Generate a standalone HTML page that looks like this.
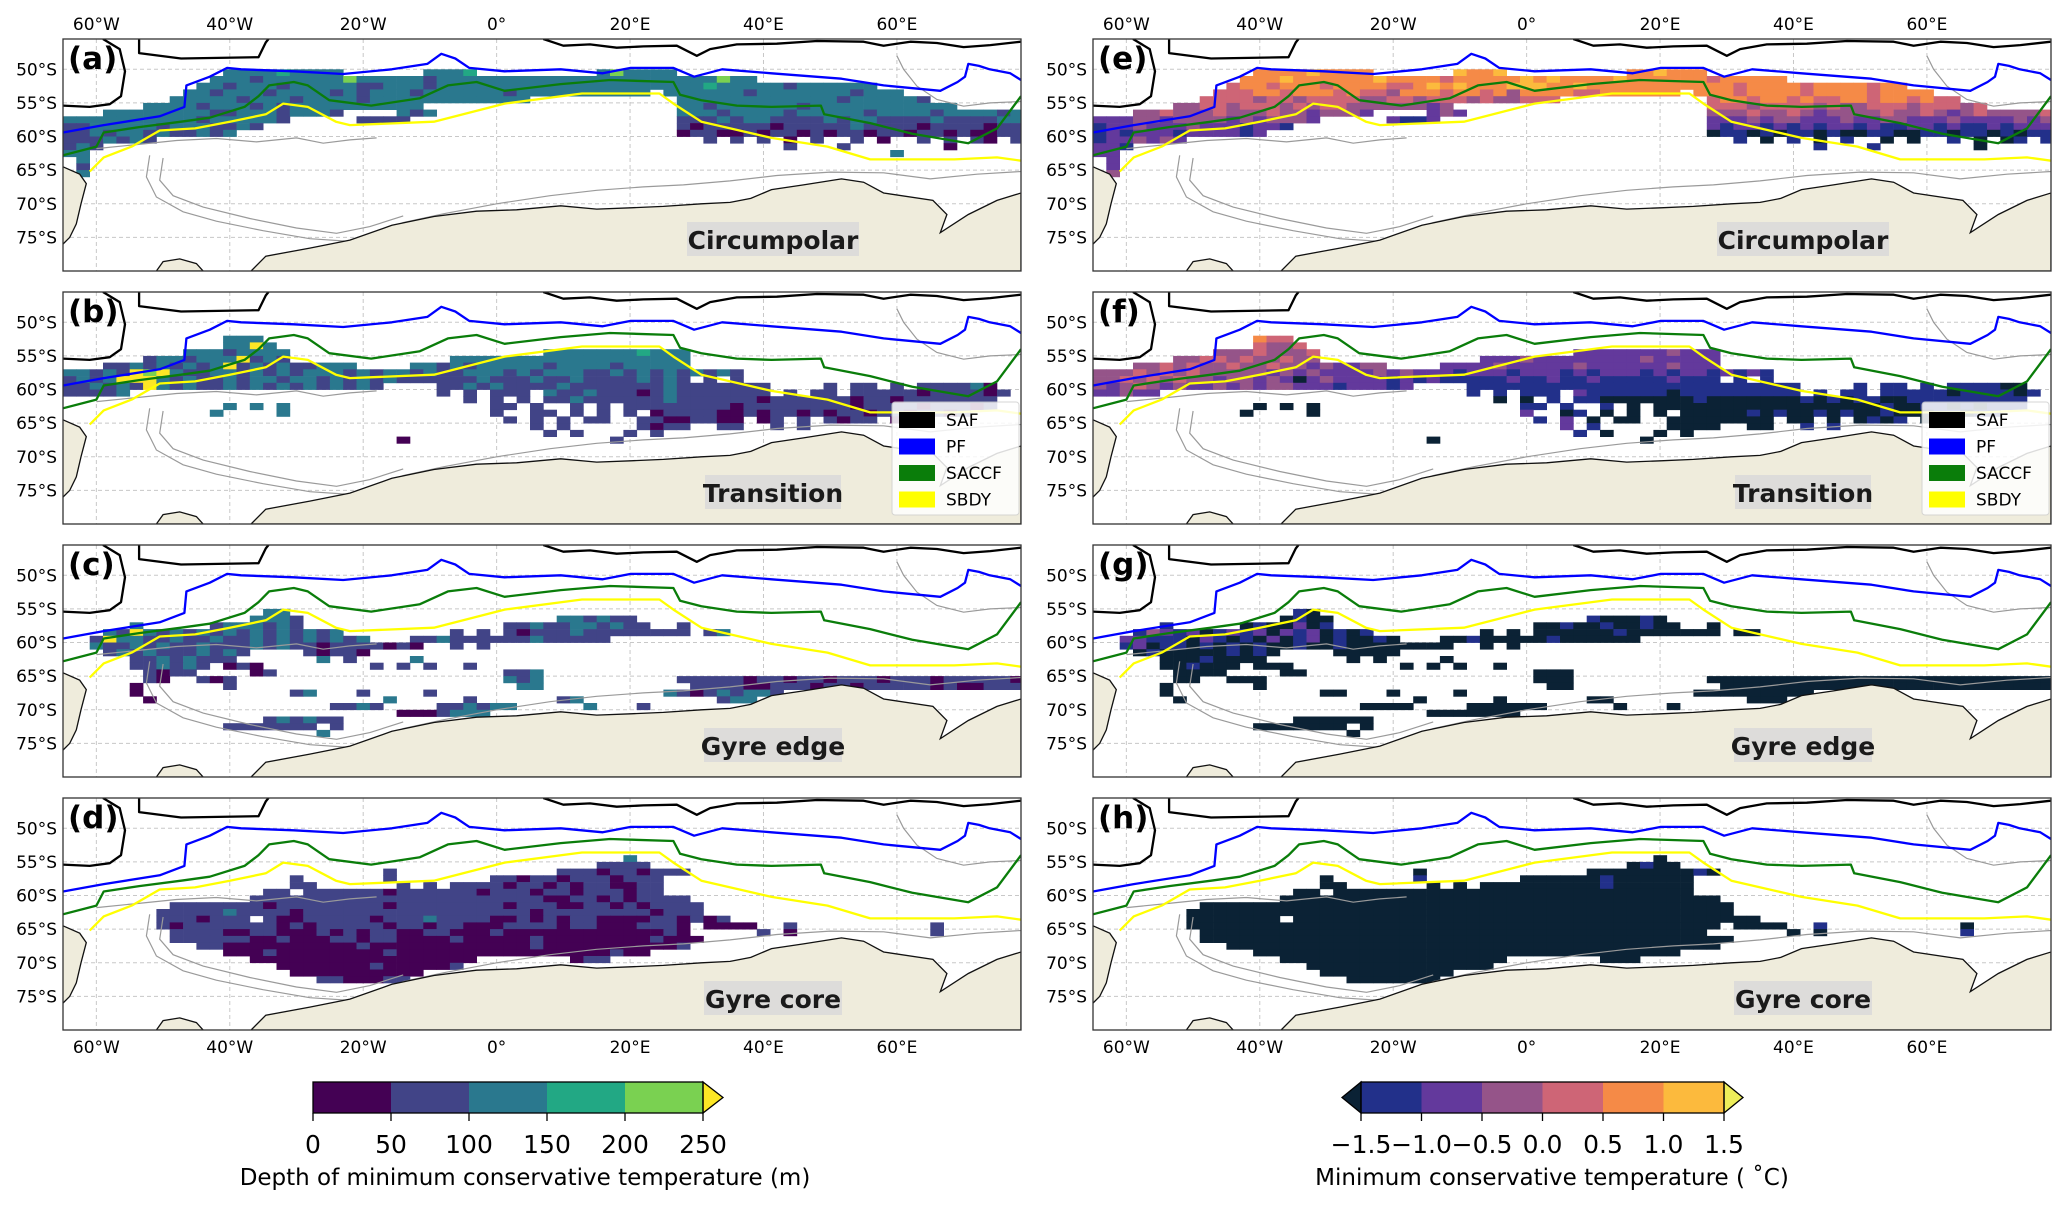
<!DOCTYPE html>
<html><head><meta charset="utf-8"><title>Minimum conservative temperature maps</title>
<style>
html,body{margin:0;padding:0;background:#fff;}
svg{display:block;font-family:"DejaVu Sans","Liberation Sans",sans-serif;}
</style></head>
<body>
<svg id="fig" width="2067" height="1207" viewBox="0 0 2067 1207" xmlns="http://www.w3.org/2000/svg"></svg>
<script>
// ---------- data ----------
const lonTicks = [-60,-40,-20,0,20,40,60];
const lonTickLabels = ["60°W","40°W","20°W","0°","20°E","40°E","60°E"];
const latTicks = [-50,-55,-60,-65,-70,-75];
const latTickLabels = ["50°S","55°S","60°S","65°S","70°S","75°S"];
const depthClassColors = ["#440154","#414487","#2a788e","#22a884","#7ad151","#fde725"];
const depthTicks = [0,50,100,150,200,250];
const tempClassColors = {a:"#0b2235",b:"#22308a",c:"#63399c",d:"#955489",e:"#ce6576",f:"#f58a47",g:"#fcba3d",h:"#eeee5a"};
const tempTicks = [-1.5,-1.0,-0.5,0.0,0.5,1.0,1.5];
const tempBins = ["b","c","d","e","f","g"];
const cellLonStart = -65, cellLonStep = 2, cellLatStart = -48, cellLatStep = 1;

// rows: row r covers lat (-48-r) to (-49-r); column c covers lon (-65+2c) to (-63+2c)
const depthCircumpolar = ["","",
".......... ..22223222 2......222 3......... 242222",
".......... .222122222 2422222122 2222222222 2222222224 22",
".......... 2212221222 2211222122 2222222222 2222222232 2222122222 2",
".........2 2122212222 1212221222 2221222222 2222.22222 2122222221 222",
"........22 2221222122 2212222222 22222..... ......2222 2222222212 22221",
"......2222 1222121222 2222222... .......... ......2212 2222212222 2222222",
"...2222222 2112221222 1....212.. .......... ......2221 2222122222 1222212222 12",
"2222222222 1222221... ..1111.... .......... ......1112 1221111212 2111121111 22",
"1122222122 21121..... .......... .......... ......1011 1110111112 1111011110 11",
"1121221211 212....... .......... .......... ......0110 0101101011 0110110100 11",
"1112121... .......... .......... .......... ........1. 1.1.0.1..1 .0..1.1.10 .1",
"121....... .......... .......... .......... .......... ....1...1. ......0...",
"22........ .......... .......... .......... .......... .......... ..2",
".2",".1",".2"];
const depthTransition = ["","","","",
".......... ..222",
".......... ..2252",
".........2 2212222... .......... ......2222 2223222",
"......1221 2225121... .........2 2222222222 2222222",
"...1121212 1251212112 22....2212 1222221222 2122222",
"2212154521 1221212122 2121221211 2221212221 1212121212 1",
"1212555212 1121221221 2121211111 1211121121 1112121.1. 1",
"1121215212 1121212121 2121....11 2121111211 1111121111 111....1.1 1.1.11112 0",
"11112..... .......... ........1. 1.111.2112 1110121111 111.1.11.1 1111011110 1",
".......... .......... .......... 1.1.1.1121 1111121111 1101111110 1101111111",
".......... ..2.2.2... .......... ..11.1..1. 1.11111111 0111111110 1111011101",
".......... .2....2... .......... ..1..11.1. 1.1.011110 0101101011 01101101",
".......... .......... .......... ...1.1.1.1 1..1100110 0.01.1.101 1.0",
".......... .......... .......... .....1.1.. ...1011..1 1..1.1",
".......... .......... .......... ......1.1. ..1.1",
".......... .......... .....0.... .......... .1"];
const depthGyreEdge = ["","","","","","","",
".......... .....22",
".......... ....2221. .......... ........22 1211",
".....2.... .1222121.. .......... ...1121122 1211..1",
"...2152121 2121212121 2........1 .1.1011121 1111111.12",
"..15221121 1211212121 212...1121 1111121111 1",
"..21121211 2111212110 1111010..1 .1",
"...1212111 2121....10 110",
".....11212 111...... 2.1....2",
".....11212 1.010..... ...1.1.1.. 1",
"......1011 ....01.... .......... ...112",
"......10.. 101....... .......... ...212.... ......1111 1011011011 1011101111 10",
".....0.... ..1....... .......... ....22.... .......111 1001110110 1111101001 11",
".....0.... .......12. ..1....1.. .......... .....21012 1221",
"......0... .......... ....2.....1 ......12.. ........12 2",
".......... .......... 1121....11 2122.....2 ...1",
".......... .......... .....00012 22",
".......... .....12121 1",
".......... ..1111111. 1",
".......... .........2"];
const depthGyreCore = ["","","","","","",
".......... .......... .......... .......... ..2",
".......... .......... .......... .......... 1111",
".......... .......... ....1..... .......111 0110111",
".......... .......1.. ....1..... ..11011011 10111",
".......... .......11. .....1.1.1 1110110101 10011",
".......... .....11.11 1111011111 1011101101 11011",
".......... ....111111 1111111111 1111110011 0101111",
"........11 1111101111 1111011111 1110111001 10101111",
".......111 1121111011 1111111111 1111101111 11110111",
".......111 0111.10011 1110111211 1100101011 0000110101",
".......101 1111110101 1111011011 0001111011 0001110.00 00..1..... .....1",
"........11 1100110001 0101100110 0010000000 0000010... ..1.0..... .....1",
"........11 1111001000 1101100001 0000010000 00001000",
".......... 1100000000 0010000000 0000010000 0000001",
".......... ..00010000 0000100000 0000000000 0100",
".......... ....000000 0000000000 0.......01 1",
".......... ......0000 0001000001",
".......... .......000 0000000",
".......... .........1 100011"];

const tempCircumpolar = ["","",
".......... ..ffffgfff f......gff g......... ffgfff",
".......... .fffgfffff fgffffefff ffgfgffffg ffffffefff ff",
".......... effefffeff ffeefgfgff fgggffgfff ffffffffef fffeffffef f",
".........e eeffefffef eedfffeffe fdffffeeff ffff.fffef fffeffffef fff",
"........ee eedeedeeee ddeedeeede ddeee..... ......effe ffefeeffef fefee",
"......ddee deeededeed dddddcd... .......... ......eeed eeeededdee edeeede",
"...ddeddde dddeddcddd c....cdc.. .......... ......ddde ddedcdddde ddedcdeddd de",
"cccddcdddd cdcdddc... ..cbbc.... .......... ......cccd cddcccdccd dcccdccccd cd",
"bccdcccdcc cbccb..... .......... .......... ......cbcc bcbcbccbcb bccbcbbcbc cc",
"bcbcccbccc cbc....... .......... .......... ......abba babbabaabb aabbabbaba bb",
"bccdcdc... .......... .......... .......... ........b. a.b.a.b..a .a..b.a.ab .b",
"ccb....... .......... .......... .......... .......... ....b...b. ......a...",
"cc",".c",".c",".d"];
const tempTransition = ["","","","",
".......... ..fee",
".......... ..edde",
".........d ddeddde... .......... ......cccc cccdccc",
"......ddee deddedd... .........c ccdccccccc cdccccc",
"...ddededd eddeddcdcc dd....cccc dcccccdccc cccdccc",
"dddedededd dddcdcdccc cdcdcccbcc cbcccbcbcc cbcbccbcbc b",
"ddedededdc ddcdcacdcc ccbcbcbbbb bcbbcbbcbb bbbcbbb.b. b",
"dcdedcdccd cdcddcccbc ccbc....bb bbbbbbbbbb bbbbbbbbbb bbb....b.b b.b.bbbba a",
"ccdcc..... .......... ........b. b.bbb.cbbb bbbabbbbbb bbb.b.bb.b bbbbabbbba b",
".......... .......... .......... a.a.b.bbaa aaaaabaaaa aaabababba abbbbbbbbb",
".......... ..a.a.a... .......... ..bb.b..b. a.aaaaaaaa aaaaaaaaab aabbababbb",
".......... .a....a... .......... ..c..ab.a. a.a.aaaaab abaababaab aaabbabb",
".......... .......... .......... ...b.c.a.a a..aaaaaaa a.aa.a.aba b.a",
".......... .......... .......... .....c.b.. ...aaaa..a a..b.b",
".......... .......... .......... ......b.a. ..a.a",
".......... .......... .....a.... .......... .a"];
const tempGyreEdge = ["","","","","","","",
".......... .....ba",
".......... ....abaa. .......... ........ba aaba",
".....b.... .abaacab.. .......... ...aabaaba abaa..a",
"...bdcbcab cbcacbcaba b........a .a.aaaaaab aaaaaaa.aa",
"..ccbbbacb abacabcaba aba...aaba aaaabaaaaa a",
"..bcabbaba babaabaaba aaaaaaa..a .a",
"...abaaaaa baba....aa aaa",
".....aaaba aaa...... a.a....a",
".....aabaa a.aaa..... ...a.a.a.. a",
"......aaaa ....aa.... .......... ...aaa",
"......aa.. aaa....... .......... ...aaa.... ......aaaa aaaaaaaaaa aaaaaaaaaa aa",
".....a.... ..a....... .......... ....aa.... .......aaa aaaaaaaaaa aaaaaaaaaa aa",
".....a.... .......aa. ..a....a.. .......... .....aaaaa aaaa",
"......a... .......... ....a.....a ......aa.. ........aa a",
".......... .......... aaaa....aa aaaa.....a ...a",
".......... .......... .....aaaaa aa",
".......... .....aaaaa a",
".......... ..aaaaaaa. a",
".......... .........a"];
const tempGyreCore = ["","","","","","",
".......... .......... .......... .......... ..a",
".......... .......... .......... .......... abaa",
".......... .......... ....a..... .......aaa aaaaaba",
".......... .......a.. ....b..... ..aaaaaaba aaaaa",
".......... .......aa. .....a.a.a aaaaaaaaba aaaaa",
".......... .....aa.aa aaaaaaaaaa aaaaaaaaaa aaaaa",
".......... ....aaaaaa aaaaaaaaaa aaaaaaaaaa aaaaaaa",
"........aa aaaaaaaaaa aaaaaaaaaa aaaaaaaaaa aaaaaaaa",
".......aaa aaaaaaaaaa aaaaaaaaaa aaaaaaaaaa aaaaaaaa",
".......aaa aaaa.aaaaa aaaaaaaaaa aaaaaaaaaa aaaaaaaaaa",
".......aaa aaaaaaaaaa aaaaaaaaaa aaaaaaaaaa aaaaaaa.aa aa..b..... .....a",
"........aa aaaaaaaaaa aaaaaaaaaa aaaaaaaaaa aaaaaa.... ..a.a..... .....b",
"........aa aaaaaaaaaa aaaaaaaaaa aaaaaaaaaa aaaaaaaa",
".......... aaaaaaaaaa aaaaaaaaaa aaaaaaaaaa aaaaaaa",
".......... ..aaaaaaaa aaaaaaaaaa aaaaaaaaaa aaaa",
".......... ....aaaaaa aaaaaaaaaa a.......aa a",
".......... ......aaaa aaaaaaaaaa",
".......... .......aaa aaaaaaa",
".......... .........a aaaaaa"];

// fronts and coast as [lon, lat]
const safLine = [[7,-45.5],[10,-46.5],[14,-46.3],[18,-46.8],[22,-46.6],[27,-46.5],[30,-48],[32,-47],[36,-46.3],[42,-46.2],[48,-45.8],[55,-45.9],[58,-46.5],[62,-45.9],[66,-46.1],[70,-46.7],[74,-46.4],[78.6,-45.9]];
const safWest1 = [[-59,-45.5],[-56.5,-47],[-55.7,-50.3],[-56.3,-54],[-58,-55.2],[-61,-55.6],[-65,-55.4]];
const safWest2 = [[-53.6,-45.5],[-53.6,-47.6],[-47.3,-48.4],[-35.7,-48.2],[-34.6,-46],[-34.2,-45.5]];
const pfLine = [[-65,-59.4],[-58.9,-58.3],[-50.5,-57],[-46.8,-55.6],[-46.5,-52.4],[-43,-51.1],[-40.4,-49.8],[-38.3,-50],[-30.4,-50.3],[-23,-50.7],[-15.7,-50],[-10.4,-49.2],[-8.3,-47.7],[-6.2,-48.4],[-4.1,-49.8],[1.2,-50.3],[9.6,-50],[15.9,-50.6],[20.1,-49.8],[26.5,-49.8],[29.6,-51.1],[33.8,-50],[41.2,-50.6],[51.7,-51.4],[58,-52.4],[66.5,-53.2],[69.1,-51.9],[70.2,-51.1],[70.7,-49.2],[72.3,-49.5],[73.9,-50],[77,-50.6],[78.6,-51.6]];
const saccfLine = [[-65,-62.8],[-60,-61.5],[-58.9,-59.4],[-53.6,-58.6],[-47.3,-57.8],[-43,-57.2],[-37.8,-55.6],[-35.7,-54],[-34.1,-52.4],[-30.4,-51.9],[-28.3,-52.4],[-25.1,-54.6],[-18.8,-55.4],[-11.5,-54.3],[-7.3,-52.4],[-3,-51.9],[1.2,-53.2],[9.6,-52.2],[17,-51.6],[26.5,-51.9],[27.5,-53.8],[30.7,-54.6],[36,-55.4],[41.2,-55.6],[48.6,-55.4],[49.1,-56.7],[56,-58],[62.3,-59.6],[70.7,-61],[75,-58.8],[78.6,-54]];
const sbdyLine = [[-61,-65.2],[-58.9,-63.1],[-54.7,-61.5],[-50.5,-59.1],[-45.2,-58.8],[-40,-57.8],[-34.6,-56.7],[-32,-55.1],[-28.3,-55.6],[-24.1,-57.8],[-22,-58.3],[-9.4,-57.8],[1.2,-55.1],[12.8,-53.6],[24.4,-53.6],[26.5,-55.1],[30.7,-57.8],[41.2,-60.2],[49.6,-61.5],[56,-63.4],[68.6,-63.4],[75,-63.1],[78.6,-63.6]];
const antarcticaCoast = [[-36.8,-80],[-34.6,-77.8],[-28,-76.6],[-22,-75.4],[-15.7,-73.2],[-9.4,-71.9],[-3,-71.1],[3,-70.9],[9.6,-70.3],[15,-70.8],[20.1,-70.6],[25,-70.4],[30.7,-70],[35,-69.8],[38.1,-69.2],[41.2,-67.9],[46,-67.2],[51.7,-66.3],[55,-66.8],[58,-68.4],[65.4,-69.5],[67.5,-71.6],[66.5,-74.3],[70.7,-71.6],[75,-69.5],[78.6,-68.4],[78.6,-80]];
const peninsulaCoast = [[-65,-64.5],[-62.5,-65.6],[-61.5,-67],[-62.3,-70],[-63,-73],[-64,-75],[-65,-76]];
const islandCoast = [[-51,-80],[-50,-78.6],[-47.5,-78.2],[-45,-78.9],[-44,-80]];
const gyreContourOuter = [[-52,-62.8],[-52.5,-66],[-51,-69],[-47,-71.2],[-42,-72.6],[-35,-74],[-28,-75.2],[-22,-75.6],[-18,-74.6],[-14,-72.8],[-8,-71.5],[0,-70],[8,-68.8],[15,-68],[22,-67.5],[28,-67.2],[35,-66.6],[42,-65.8],[50,-65.3],[58,-65.4],[65,-66.3],[72,-65.6],[78.6,-65.2]];
const gyreContourInner = [[-50,-63.2],[-50.5,-66.5],[-48.5,-68.8],[-44,-70.5],[-37,-72.2],[-30,-73.6],[-24,-74.4],[-19,-73.4],[-14,-71.8]];
const ridgeContour = [[-60,-61.8],[-54,-61.2],[-48,-60.6],[-42,-60.3],[-36,-60.8],[-30,-60.2],[-26,-61],[-22,-60.5],[-18,-60.2]];
const kergContour = [[60,-48],[61,-50],[63,-52.5],[66,-54.5],[70,-55.5],[74,-55],[78.6,-54.8]];

// ---------- layout ----------
const svg = document.getElementById('fig');
const NS = "http://www.w3.org/2000/svg";
const PW = 958, PH = 232, LON0 = -65, LON1 = 78.6, LAT0 = -45.5, LAT1 = -80;
const colX = [63, 1093];
const rowY = [39, 292, 545, 798];

function mk(tag, attrs, parent){
  const e = document.createElementNS(NS, tag);
  for (const k in attrs) e.setAttribute(k, attrs[k]);
  (parent||svg).appendChild(e);
  return e;
}
function xs(x0, lon){ return x0 + (lon - LON0) * PW / (LON1 - LON0); }
function ys(y0, lat){ return y0 + (LAT0 - lat) * PH / (LAT0 - LAT1); }
function pts(x0,y0,arr){ return arr.map(p => xs(x0,p[0]).toFixed(1)+","+ys(y0,p[1]).toFixed(1)).join(" "); }

const panels = [
  {id:"a", col:0, row:0, data:depthCircumpolar, kind:"depth", region:"Circumpolar"},
  {id:"b", col:0, row:1, data:depthTransition, kind:"depth", region:"Transition", legend:true},
  {id:"c", col:0, row:2, data:depthGyreEdge, kind:"depth", region:"Gyre edge"},
  {id:"d", col:0, row:3, data:depthGyreCore, kind:"depth", region:"Gyre core"},
  {id:"e", col:1, row:0, data:tempCircumpolar, kind:"temp", region:"Circumpolar"},
  {id:"f", col:1, row:1, data:tempTransition, kind:"temp", region:"Transition", legend:true},
  {id:"g", col:1, row:2, data:tempGyreEdge, kind:"temp", region:"Gyre edge"},
  {id:"h", col:1, row:3, data:tempGyreCore, kind:"temp", region:"Gyre core"}
];

const defs = mk('defs', {});
panels.forEach(p => {
  const x0 = colX[p.col], y0 = rowY[p.row];
  const cp = mk('clipPath', {id:'clip-'+p.id}, defs);
  mk('rect', {x:x0, y:y0, width:PW, height:PH}, cp);

  const g = mk('g', {});
  
  
  const inner = mk('g', {'clip-path':'url(#clip-'+p.id+')'}, g);
  mk('rect', {x:x0, y:y0, width:PW, height:PH, fill:'#ffffff'}, inner);

  // gridlines
  lonTicks.forEach(lon => {
    const gl = mk('line', {x1:xs(x0,lon), x2:xs(x0,lon), y1:y0, y2:y0+PH, stroke:'#c8c8c8', 'stroke-width':1, 'stroke-dasharray':'4,3'}, inner);
    
    
  });
  latTicks.forEach(lat => {
    const gl = mk('line', {x1:x0, x2:x0+PW, y1:ys(y0,lat), y2:ys(y0,lat), stroke:'#c8c8c8', 'stroke-width':1, 'stroke-dasharray':'4,3'}, inner);
    
    
  });

  // cells
  const cg = mk('g', {}, inner);
  
  
  p.data.forEach((rowStr, r) => {
    const s = rowStr.replace(/\s/g, '');
    const latTop = cellLatStart - r * cellLatStep;
    for (let c = 0; c < s.length; c++) {
      const ch = s[c];
      if (ch === '.') continue;
      const color = p.kind === 'depth' ? depthClassColors[+ch] : tempClassColors[ch];
      if (!color) continue;
      const lonL = cellLonStart + c * cellLonStep;
      const xa = xs(x0, lonL), xb = xs(x0, lonL + cellLonStep);
      const ya = ys(y0, latTop), yb = ys(y0, latTop - cellLatStep);
      const cell = mk('rect', {x:xa.toFixed(1), y:ya.toFixed(1), width:(xb-xa+0.4).toFixed(1), height:(yb-ya+0.4).toFixed(1), fill:color}, cg);
      
      
    }
  });

  // bathymetry contours
  [gyreContourOuter, gyreContourInner, ridgeContour, kergContour].forEach(arr => {
    const pl = mk('polyline', {points:pts(x0,y0,arr), fill:'none', stroke:'#9a9a9a', 'stroke-width':1.2}, inner);
    
    
  });

  // land
  [antarcticaCoast, peninsulaCoast, islandCoast].forEach(arr => {
    let poly = arr;
    if (arr === peninsulaCoast) poly = arr.concat([[-66,-76],[-66,-64.5]]);
    const lp = mk('polygon', {points:pts(x0,y0,poly), fill:'#efecdc', stroke:'#111', 'stroke-width':1.3}, inner);
    
    
  });

  // fronts
  const fronts = [[sbdyLine,'#ffff00','sbdy-front'],[saccfLine,'#0a7d0a','saccf-front'],[pfLine,'#0000ff','pf-front'],[safLine,'#000000','saf-front'],[safWest1,'#000000','saf-front'],[safWest2,'#000000','saf-front']];
  fronts.forEach(f => {
    const pl = mk('polyline', {points:pts(x0,y0,f[0]), fill:'none', stroke:f[1], 'stroke-width':2.3, 'stroke-linejoin':'round'}, inner);
    
    
  });

  // panel letter
  const lt = mk('text', {x:x0+5, y:y0+30, 'font-size':31, 'font-weight':'bold', fill:'#000'}, g);
  lt.textContent = '(' + p.id + ')';
  
  

  // region label
  const cx = x0 + 710, cy = y0 + 201;
  const bw = p.region === 'Circumpolar' ? 172 : (p.region === 'Transition' ? 136 : 138);
  const rb = mk('rect', {x:cx-bw/2, y:cy-18, width:bw, height:34, fill:'#d9d9d9', opacity:0.85}, g);
  
  
  const rt = mk('text', {x:cx, y:cy+9, 'font-size':25, 'font-weight':'bold', 'text-anchor':'middle', fill:'#1a1a1a'}, g);
  rt.textContent = p.region;
  
  

  // legend
  if (p.legend) {
    const lg = mk('g', {}, g);
    
    
    const lx = x0 + 829, ly = y0 + 110;
    mk('rect', {x:lx, y:ly, width:127, height:113, fill:'#ffffff', opacity:0.85, stroke:'#d0d0d0', rx:3}, lg);
    const names = ['SAF','PF','SACCF','SBDY'];
    const cols = ['#000000','#0000ff','#0a7d0a','#ffff00'];
    names.forEach((n, i) => {
      const e = mk('g', {}, lg);
      
      
      mk('rect', {x:lx+7, y:ly+10+i*26.5, width:36, height:16, fill:cols[i]}, e);
      const t = mk('text', {x:lx+54, y:ly+24+i*26.5, 'font-size':17, fill:'#000'}, e);
      t.textContent = n;
    });
  }

  // frame
  const fr = mk('rect', {x:x0, y:y0, width:PW, height:PH, fill:'none', stroke:'#333', 'stroke-width':1.3}, g);
  
  

  // y tick labels
  latTicks.forEach((lat, i) => {
    const t = mk('text', {x:x0-6, y:ys(y0,lat)+6, 'font-size':17, 'text-anchor':'end', fill:'#000'}, g);
    t.textContent = latTickLabels[i];
    
    
  });
  // x tick labels (top of first row, bottom of last row)
  if (p.row === 0 || p.row === 3) {
    lonTicks.forEach((lon, i) => {
      const ty = p.row === 0 ? y0 - 9 : y0 + PH + 23;
      const t = mk('text', {x:xs(x0,lon), y:ty, 'font-size':17, 'text-anchor':'middle', fill:'#000'}, g);
      t.textContent = lonTickLabels[i];
      
      
    });
  }
});

// ---------- colorbars ----------
(function(){
  const g = mk('g', {});
  
  
  const x0 = 313, x1 = 703, y0 = 1082, h = 31;
  const segW = (x1 - x0) / (depthTicks.length - 1);
  const cbx = v => x0 + (v - depthTicks[0]) / (depthTicks[depthTicks.length-1] - depthTicks[0]) * (x1 - x0);
  for (let i = 0; i < depthTicks.length - 1; i++) {
    mk('rect', {x:cbx(depthTicks[i]), y:y0, width:segW+0.5, height:h, fill:depthClassColors[i]}, g);
  }
  mk('polygon', {points:`${x1},${y0} ${x1+20},${y0+h/2} ${x1},${y0+h}`, fill:depthClassColors[5], stroke:'#000', 'stroke-width':1.3}, g);
  mk('rect', {x:x0, y:y0, width:x1-x0, height:h, fill:'none', stroke:'#000', 'stroke-width':1.3}, g);
  depthTicks.forEach(v => {
    mk('line', {x1:cbx(v), x2:cbx(v), y1:y0+h, y2:y0+h+8, stroke:'#000', 'stroke-width':1.3}, g);
    const t = mk('text', {x:cbx(v), y:y0+h+40, 'font-size':25, 'text-anchor':'middle', fill:'#000'}, g);
    t.textContent = String(v);
    
    
  });
  const lab = mk('text', {x:525, y:1185, 'font-size':23, 'text-anchor':'middle', fill:'#000'}, g);
  lab.textContent = 'Depth of minimum conservative temperature (m)';
  
  
})();
(function(){
  const g = mk('g', {});
  
  
  const x0 = 1361, x1 = 1724, y0 = 1082, h = 31;
  const lo = tempTicks[0], hi = tempTicks[tempTicks.length-1];
  const cbx = v => x0 + (v - lo) / (hi - lo) * (x1 - x0);
  for (let i = 0; i < tempBins.length; i++) {
    mk('rect', {x:cbx(tempTicks[i]), y:y0, width:cbx(tempTicks[i+1])-cbx(tempTicks[i])+0.5, height:h, fill:tempClassColors[tempBins[i]]}, g);
  }
  mk('polygon', {points:`${x0},${y0} ${x0-19},${y0+h/2} ${x0},${y0+h}`, fill:tempClassColors.a, stroke:'#000', 'stroke-width':1.3}, g);
  mk('polygon', {points:`${x1},${y0} ${x1+19},${y0+h/2} ${x1},${y0+h}`, fill:tempClassColors.h, stroke:'#000', 'stroke-width':1.3}, g);
  mk('rect', {x:x0, y:y0, width:x1-x0, height:h, fill:'none', stroke:'#000', 'stroke-width':1.3}, g);
  tempTicks.forEach(v => {
    mk('line', {x1:cbx(v), x2:cbx(v), y1:y0+h, y2:y0+h+8, stroke:'#000', 'stroke-width':1.3}, g);
    const t = mk('text', {x:cbx(v), y:y0+h+40, 'font-size':25, 'text-anchor':'middle', fill:'#000'}, g);
    t.textContent = (v < 0 ? '\u2212' : '') + Math.abs(v).toFixed(1);
    
    
  });
  const lab = mk('text', {x:1552, y:1185, 'font-size':23, 'text-anchor':'middle', fill:'#000'}, g);
  lab.textContent = 'Minimum conservative temperature ( \u02DAC)';
  
  
})();
</script>
</body></html>
